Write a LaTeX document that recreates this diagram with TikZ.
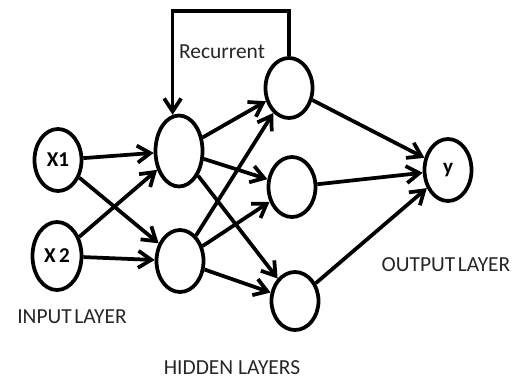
\documentclass[tikz,border=0pt]{standalone}
\usepackage{fontspec}
\setmainfont{Carlito}
\usetikzlibrary{arrows.meta}
\usetikzlibrary{shapes.geometric}

\begin{document}
\begin{tikzpicture}
	\tikzset{
	  neuron/.style={ellipse,draw,line width=0.75mm,minimum width=0.94cm,minimum height=1.24cm,
	    inner sep=0pt,font=\fontsize{12}{14}\selectfont\bfseries},
	  link/.style={line width=0.75mm,-{Straight Barb[length=2.6mm,width=3.4mm]}},
	  layer/.style={font=\fontsize{12.2}{14}\selectfont,text=black!85}
	}
	\useasboundingbox (0,0) rectangle (10.42,7.58);
	%INPUT LAYER
	\node[neuron] (x1) at (1.16,4.38) {X1};
	\node[neuron,minimum width=0.98cm,minimum height=1.36cm] (x2) at (1.14,2.46) {\raisebox{-2.4mm}{X\,2}};
	%HIDDEN LAYERS
	\node[neuron,minimum height=1.42cm] (h1) at (3.58,4.56) {};
	\node[neuron] (h2) at (3.60,2.36) {};
	\node[neuron,minimum height=1.2cm] (r1) at (5.78,5.82) {};
	\node[neuron,minimum height=1.2cm] (r2) at (5.84,3.84) {};
	\node[neuron,minimum height=1.16cm] (r3) at (5.90,1.56) {};
	%OUTPUT LAYER
	\node[neuron] (out) at (8.96,4.18) {y};
	%CONNECTIONS
	\foreach \a/\b in {x1/h1,x1/h2,x2/h1,x2/h2,h1/r1,h1/r2,h1/r3,h2/r1,h2/r2,h2/r3,r1/out,r2/out,r3/out} {
		\draw[link] (\a) -- (\b) ;
	  }
	%RECURRENT LOOP
	\coordinate (loop) at (5.78,7.36);
	\draw[link] (r1.north) -- (loop) -| (h1.100) ;
	\node[layer] (reclab) at (4.44,6.55) {Recurrent};
	%LABELS
	\node[layer] (inlab) at (1.44,1.24) {INPUT\hspace{0.12em}LAYER};
	\node[layer] (hidlab) at (4.64,0.22) {HIDDEN LAYERS};
	\node[layer] (outlab) at (8.92,2.28) {OUTPUT\hspace{0.12em}LAYER};
\end{tikzpicture}
\end{document}
